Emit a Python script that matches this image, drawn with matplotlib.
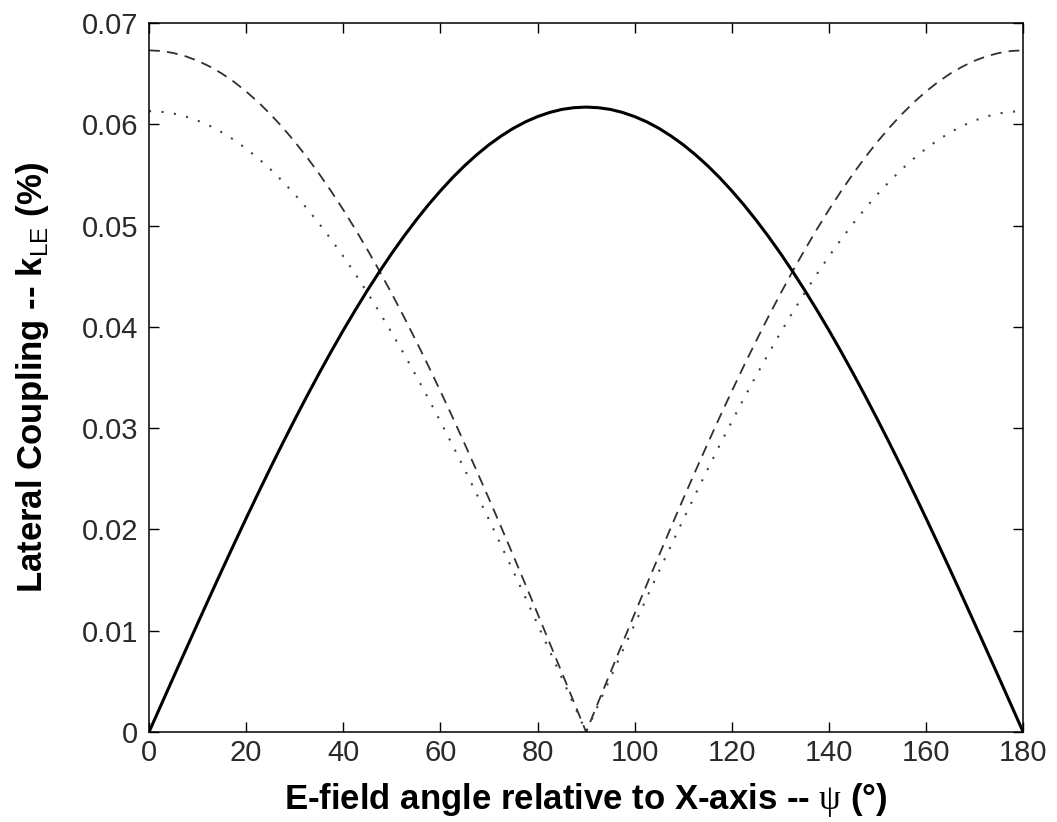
import matplotlib
matplotlib.use("Agg")
import matplotlib.pyplot as plt

plt.rcParams["font.family"] = ["Liberation Sans", "DejaVu Sans"]
plt.rcParams["mathtext.fontset"] = "custom"
plt.rcParams["mathtext.rm"] = "Liberation Serif"
plt.rcParams["mathtext.sf"] = "Liberation Sans"

# E-field angle (deg), sampled every 2.5 degrees
angle = [0, 2.5, 5, 7.5, 10, 12.5, 15, 17.5, 20, 22.5, 25, 27.5, 30, 32.5, 35, 37.5,
         40, 42.5, 45, 47.5, 50, 52.5, 55, 57.5, 60, 62.5, 65, 67.5, 70, 72.5, 75,
         77.5, 80, 82.5, 85, 87.5, 90, 92.5, 95, 97.5, 100, 102.5, 105, 107.5, 110,
         112.5, 115, 117.5, 120, 122.5, 125, 127.5, 130, 132.5, 135, 137.5, 140,
         142.5, 145, 147.5, 150, 152.5, 155, 157.5, 160, 162.5, 165, 167.5, 170,
         172.5, 175, 177.5, 180]

# lateral coupling (%) for the three cases
k_solid = [0.00000, 0.00269, 0.00538, 0.00805, 0.01071, 0.01335, 0.01597, 0.01855,
           0.02110, 0.02361, 0.02608, 0.02849, 0.03085, 0.03315, 0.03539, 0.03756,
           0.03966, 0.04168, 0.04363, 0.04549, 0.04727, 0.04895, 0.05054, 0.05204,
           0.05343, 0.05473, 0.05592, 0.05700, 0.05798, 0.05884, 0.05960, 0.06024,
           0.06076, 0.06117, 0.06147, 0.06164, 0.06170,
           0.06164, 0.06147, 0.06117, 0.06076, 0.06024, 0.05960, 0.05884, 0.05798,
           0.05700, 0.05592, 0.05473, 0.05343, 0.05204, 0.05054, 0.04895, 0.04727,
           0.04549, 0.04363, 0.04168, 0.03966, 0.03756, 0.03539, 0.03315, 0.03085,
           0.02849, 0.02608, 0.02361, 0.02110, 0.01855, 0.01597, 0.01335, 0.01071,
           0.00805, 0.00538, 0.00269, 0.00000]
k_dashed = [0.06730, 0.06724, 0.06704, 0.06672, 0.06628, 0.06570, 0.06501, 0.06419,
            0.06324, 0.06218, 0.06099, 0.05970, 0.05828, 0.05676, 0.05513, 0.05339,
            0.05156, 0.04962, 0.04759, 0.04547, 0.04326, 0.04097, 0.03860, 0.03616,
            0.03365, 0.03108, 0.02844, 0.02575, 0.02302, 0.02024, 0.01742, 0.01457,
            0.01169, 0.00878, 0.00587, 0.00294, 0.00000,
            0.00294, 0.00587, 0.00878, 0.01169, 0.01457, 0.01742, 0.02024, 0.02302,
            0.02575, 0.02844, 0.03108, 0.03365, 0.03616, 0.03860, 0.04097, 0.04326,
            0.04547, 0.04759, 0.04962, 0.05156, 0.05339, 0.05513, 0.05676, 0.05828,
            0.05970, 0.06099, 0.06218, 0.06324, 0.06419, 0.06501, 0.06570, 0.06628,
            0.06672, 0.06704, 0.06724, 0.06730]
k_dotted = [0.06130, 0.06124, 0.06107, 0.06078, 0.06037, 0.05985, 0.05921, 0.05846,
            0.05760, 0.05663, 0.05556, 0.05437, 0.05309, 0.05170, 0.05021, 0.04863,
            0.04696, 0.04520, 0.04335, 0.04141, 0.03940, 0.03732, 0.03516, 0.03294,
            0.03065, 0.02831, 0.02591, 0.02346, 0.02097, 0.01843, 0.01587, 0.01327,
            0.01064, 0.00800, 0.00534, 0.00267, 0.00000,
            0.00267, 0.00534, 0.00800, 0.01064, 0.01327, 0.01587, 0.01843, 0.02097,
            0.02346, 0.02591, 0.02831, 0.03065, 0.03294, 0.03516, 0.03732, 0.03940,
            0.04141, 0.04335, 0.04520, 0.04696, 0.04863, 0.05021, 0.05170, 0.05309,
            0.05437, 0.05556, 0.05663, 0.05760, 0.05846, 0.05921, 0.05985, 0.06037,
            0.06078, 0.06107, 0.06124, 0.06130]

x_ticks = [0, 20, 40, 60, 80, 100, 120, 140, 160, 180]
y_ticks = [0, 0.01, 0.02, 0.03, 0.04, 0.05, 0.06, 0.07]
y_tick_labels = ["0", "0.01", "0.02", "0.03", "0.04", "0.05", "0.06", "0.07"]

fig = plt.figure(figsize=(10.57, 8.22), dpi=100)
ax = fig.add_axes([0.141, 0.1095, 0.827, 0.8625])

ax.plot(angle, k_dashed, color="#303030", lw=1.3, linestyle=(0, (6, 4)))
ax.plot(angle, k_dotted, color="#404040", lw=1.5, linestyle=(0, (1, 5)))
ax.plot(angle, k_solid, color="black", lw=2.2)

ax.set_xlim(0, 180)
ax.set_ylim(0, 0.07)
ax.set_xticks(x_ticks)
ax.set_yticks(y_ticks)
ax.set_yticklabels(y_tick_labels)

ax.tick_params(direction="in", top=True, right=True, length=7, width=1.0,
               labelsize=21, labelcolor="#2a2a2a")
ax.tick_params(axis="x", pad=5)
ax.tick_params(axis="y", pad=8)
for spine in ax.spines.values():
    spine.set_linewidth(1.1)

ax.set_xlabel(r"E-field angle relative to X-axis -- $\mathrm{\psi}$ (°)",
              fontsize=25, fontweight="bold", labelpad=10)
ax.set_ylabel(r"Lateral Coupling -- k$_{\mathsf{LE}}$ (%)",
              fontsize=25, fontweight="bold", labelpad=22)

fig.savefig("out.png", dpi=100, facecolor="white")
